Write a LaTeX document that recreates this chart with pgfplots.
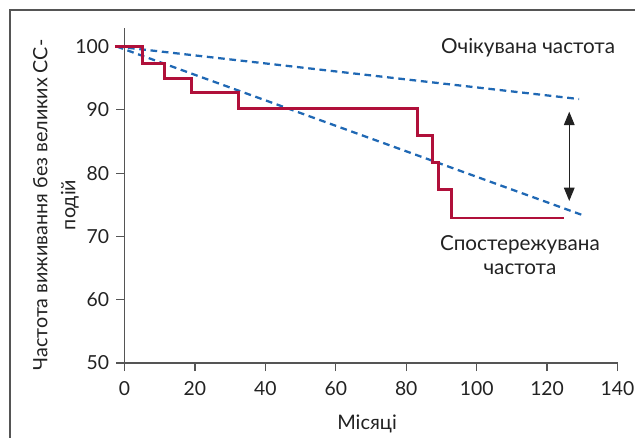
\documentclass[border=0pt]{standalone}
\usepackage{pgfplots}
\pgfplotsset{compat=1.18}
\usepackage{fontspec}
\setmainfont{Lato}
\usetikzlibrary{arrows.meta}
\definecolor{survred}{HTML}{B0103A}
\definecolor{expblue}{HTML}{1F68B4}
\definecolor{axgray}{HTML}{555555}
\definecolor{txt}{HTML}{222222}
\begin{document}
\begin{tikzpicture}
\useasboundingbox (0,0) rectangle (476.25pt,327.75pt);
\draw[axgray, line width=1.1pt] (7.5pt,-1pt) -- (7.5pt,320.25pt) -- (478pt,320.25pt);
\begin{axis}[
  at={(93.375pt,55.5pt)}, anchor=south west,
  scale only axis, width=369.75pt, height=251.6pt,
  xmin=0, xmax=140, ymin=50, ymax=103,
  axis lines*=left, clip=false,
  axis line style={axgray, line width=1pt},
  xtick={0,20,...,140}, ytick={50,60,...,100},
  tick align=outside, tick style={axgray, line width=0.9pt},
  major tick length=6pt,
  /pgf/number format/assume math mode=true,
  tick label style={font=\fontsize{14.5}{16}\selectfont, text=txt},
  xticklabel style={yshift=-4.5pt},
  yticklabel style={xshift=-2pt},
  xlabel={Місяці},
  xlabel style={at={(rel axis cs:0.492,-0.183)}, anchor=center, font=\fontsize{15}{16}\selectfont, text=txt},
  ylabel={Частота виживання без великих СС-\\подій},
  ylabel style={at={(rel axis cs:-0.139,0.471)}, anchor=center, align=center, font=\fontsize{14.8}{21}\selectfont, text=txt},
]
\addplot[expblue, line width=1.7pt, dash pattern=on 5pt off 3.5pt] coordinates {(-2.2,100) (129.1,91.7)};
\addplot[expblue, line width=1.7pt, dash pattern=on 5pt off 3.5pt] coordinates {(-2.2,100) (129.9,73.4)};
\addplot[survred, line width=2pt, const plot] coordinates {
(-2.7,100) (5.2,97.3) (11.3,95.0) (19.1,92.7) (32.3,90.2) (83.2,85.95) (87.5,81.7) (89.1,77.4) (92.9,72.9) (124.9,72.9)};
\addplot[txt, line width=0.8pt, {Triangle[length=10pt, width=8pt]}-{Triangle[length=10pt, width=8pt]}] coordinates {(126.3,89.7) (126.3,75.6)};
\node[text=txt, font=\fontsize{15.5}{16}\selectfont] at (axis cs:114.6,99.76) {Очікувана частота};
\node[text=txt, align=center, font=\fontsize{15.5}{17.5}\selectfont] at (axis cs:112.3,67.06) {Спостережувана\\частота};
\end{axis}
\end{tikzpicture}
\end{document}
